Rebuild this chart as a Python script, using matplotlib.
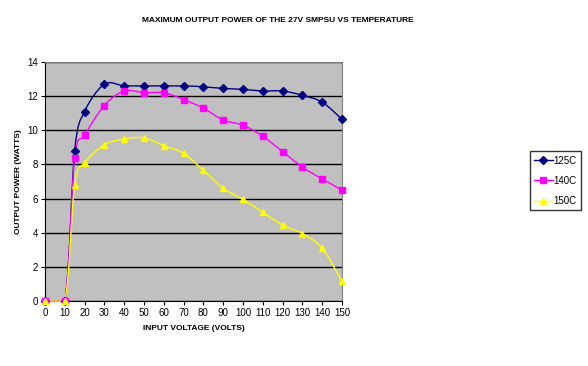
import matplotlib
matplotlib.use('Agg')
import matplotlib.pyplot as plt
from matplotlib.path import Path
from matplotlib.patches import PathPatch
from matplotlib.lines import Line2D

plt.rcParams['font.family'] = ['Liberation Sans', 'DejaVu Sans']

volts = [0, 10, 15, 20, 30, 40, 50, 60, 70, 80, 90, 100, 110, 120, 130, 140, 150]
p125 = [0, 0, 8.8, 11.1, 12.7, 12.6, 12.6, 12.6, 12.6, 12.55, 12.45, 12.4, 12.3, 12.3, 12.05, 11.65, 10.65]
p140 = [0, 0, 8.4, 9.7, 11.45, 12.3, 12.2, 12.2, 11.8, 11.3, 10.6, 10.3, 9.65, 8.75, 7.85, 7.15, 6.5]
p150 = [0, 0, 6.8, 8.1, 9.15, 9.5, 9.55, 9.1, 8.65, 7.65, 6.6, 5.95, 5.2, 4.45, 3.95, 3.1, 1.15]
labels = ['125C', '140C', '150C']


def smooth_path(xs, ys):
	# excel style smoothed line: bezier segments through the points
	verts = [(xs[0], ys[0])]
	codes = [Path.MOVETO]
	n = len(xs)
	for i in range(n - 1):
		x0, y0 = xs[max(i - 1, 0)], ys[max(i - 1, 0)]
		x1, y1 = xs[i], ys[i]
		x2, y2 = xs[i + 1], ys[i + 1]
		x3, y3 = xs[min(i + 2, n - 1)], ys[min(i + 2, n - 1)]
		if y1 == y2 and (y0 == y1 or y3 == y2):
			# flat run, keep it straight
			verts.append((x2, y2))
			codes.append(Path.LINETO)
			continue
		c1 = (x1 + (x2 - x0) / 6.0, y1 + (y2 - y0) / 6.0)
		c2 = (x2 - (x3 - x1) / 6.0, y2 - (y3 - y1) / 6.0)
		verts += [c1, c2, (x2, y2)]
		codes += [Path.CURVE4] * 3
	return Path(verts, codes)


fig = plt.figure(figsize=(5.88, 3.66), dpi=100)
ax = fig.add_axes([0.0765, 0.1776, 0.505, 0.653])
ax.set_facecolor('#C0C0C0')

styles = [(p125, '#000080', 'D'), (p140, '#FF00FF', 's'), (p150, '#FFFF00', '^')]
handles = []
for (ys, col, mk), lab in zip(styles, labels):
	ax.add_patch(PathPatch(smooth_path(volts, ys), fc='none', ec=col, lw=1, zorder=3, clip_on=False))
	ax.plot(volts, ys, ls='none', marker=mk, ms=4, color=col, mec=col, zorder=4, clip_on=False)
	handles.append(Line2D([], [], color=col, marker=mk, ms=4, lw=1))

ax.set_xlim(0, 150)
ax.set_ylim(0, 14)
ax.set_xticks(range(0, 151, 10))
ax.set_yticks(range(0, 15, 2))
ax.yaxis.grid(True, color='black', lw=1)
ax.set_axisbelow(True)
ax.tick_params(labelsize=7, length=3, direction='out', width=0.8, pad=2)
for s in ['top', 'right']:
	ax.spines[s].set_color('#808080')
for s in ['left', 'bottom']:
	ax.spines[s].set_color('black')

ax.set_xlabel('INPUT VOLTAGE (VOLTS)', fontsize=6, fontweight='bold', labelpad=5)
ax.set_ylabel('OUTPUT POWER (WATTS)', fontsize=6, fontweight='bold', labelpad=4)
fig.text(0.473, 0.945, 'MAXIMUM OUTPUT POWER OF THE 27V SMPSU VS TEMPERATURE',
	ha='center', va='center', fontsize=6, fontweight='bold')

leg = fig.legend(handles, labels, loc='upper left', bbox_to_anchor=(0.901, 0.587),
	borderaxespad=0, fontsize=7, frameon=True, fancybox=False, edgecolor='black',
	handlelength=1.9, borderpad=0.45, labelspacing=1.05, handletextpad=0.1)
leg.get_frame().set_linewidth(1)

fig.savefig('out.png', dpi=100)
